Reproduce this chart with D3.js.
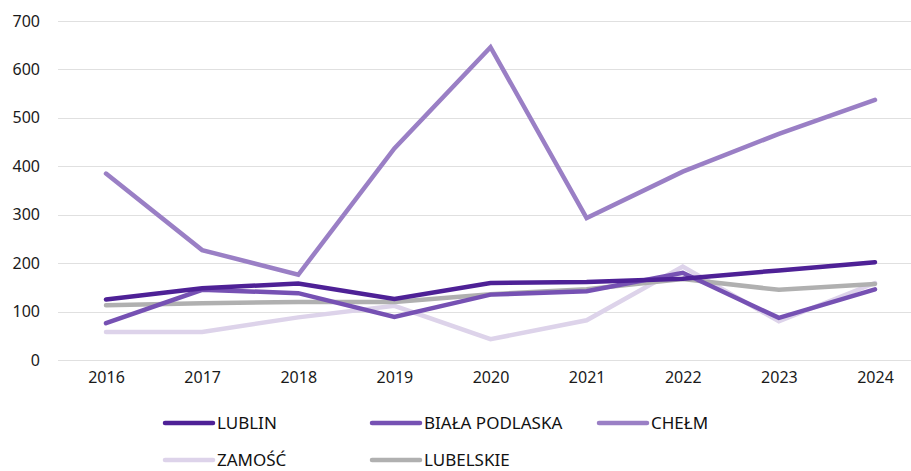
<!DOCTYPE html>
<html>
<head>
<meta charset="utf-8">
<script src="https://cdn.jsdelivr.net/npm/d3@7"></script>
<style>
  body { margin: 0; background: #fff; }
  svg { display: block; font-family: "Noto Sans", "Open Sans", sans-serif; }
</style>
</head>
<body>
<svg id="chart" width="911" height="471"></svg>
<script>
const years = ["2016","2017","2018","2019","2020","2021","2022","2023","2024"];
const lublin    = [125, 148, 158, 126, 159, 161, 168, 185, 202];
const bialaPodlaska = [76, 145, 138, 89, 135, 142, 180, 87, 146];
const chelm     = [385, 227, 176, 437, 646, 293, 389, 467, 537];
const zamosc    = [58, 58, 88, 112, 43, 82, 193, 80, 159];
const lubelskie = [113, 117, 120, 120, 136, 146, 167, 145, 157];
const yTicks = [0, 100, 200, 300, 400, 500, 600, 700];

const seriesNames = ["LUBLIN", "BIAŁA PODLASKA", "CHEŁM", "ZAMOŚĆ", "LUBELSKIE"];
const seriesValues = [lublin, bialaPodlaska, chelm, zamosc, lubelskie];
const colors = ["#4e2196", "#7651b3", "#9a7fc5", "#ddd3ea", "#b0b0b0"];
const drawOrder = [3, 4, 1, 0, 2];

const svg = d3.select("#chart");
const plotLeft = 58, plotRight = 911, plotTop = 21, plotBottom = 360;

const x = d3.scalePoint().domain(years).range([106, 875]);
const y = d3.scaleLinear().domain([0, 700]).range([plotBottom, plotTop]);

// gridlines
svg.append("g").selectAll("line").data(yTicks).join("line")
  .attr("x1", plotLeft).attr("x2", plotRight)
  .attr("y1", d => Math.round(y(d)) + 0.5).attr("y2", d => Math.round(y(d)) + 0.5)
  .attr("stroke", "#e0e0e0").attr("stroke-width", 1);

// y axis
const yAxis = svg.append("g").attr("transform", `translate(${plotLeft - 18},0)`)
  .call(d3.axisLeft(y).tickValues(yTicks).tickSize(0).tickPadding(0));
yAxis.select(".domain").remove();
yAxis.selectAll("text").attr("font-size", 16).attr("fill", "#1a1a1a").attr("font-family", "Noto Sans");

// x axis
const xAxis = svg.append("g").attr("transform", `translate(0,${plotBottom + 12})`)
  .call(d3.axisBottom(x).tickSize(0).tickPadding(0));
xAxis.select(".domain").remove();
xAxis.selectAll("text").attr("font-size", 16).attr("fill", "#1a1a1a").attr("font-family", "Noto Sans");

const line = d3.line().x((d, i) => x(years[i])).y(d => y(d));

svg.append("g").selectAll("path").data(drawOrder).join("path")
  .attr("d", i => line(seriesValues[i]))
  .attr("fill", "none")
  .attr("stroke", i => colors[i])
  .attr("stroke-width", 4.5)
  .attr("stroke-linecap", "round")
  .attr("stroke-linejoin", "miter");

// legend
const legendPos = [[165, 423], [372, 423], [599, 423], [165, 460], [372, 460]];
const lg = svg.append("g").selectAll("g").data(seriesNames).join("g")
  .attr("transform", (d, i) => `translate(${legendPos[i][0]},${legendPos[i][1]})`);
lg.append("line").attr("x1", 0).attr("x2", 48).attr("y1", 0).attr("y2", 0)
  .attr("stroke", (d, i) => colors[i]).attr("stroke-width", 4.5).attr("stroke-linecap", "round");
lg.append("text").attr("x", 52).attr("y", 0).attr("dy", "0.36em")
  .attr("font-size", 17).attr("fill", "#111").text(d => d);
</script>
</body>
</html>
